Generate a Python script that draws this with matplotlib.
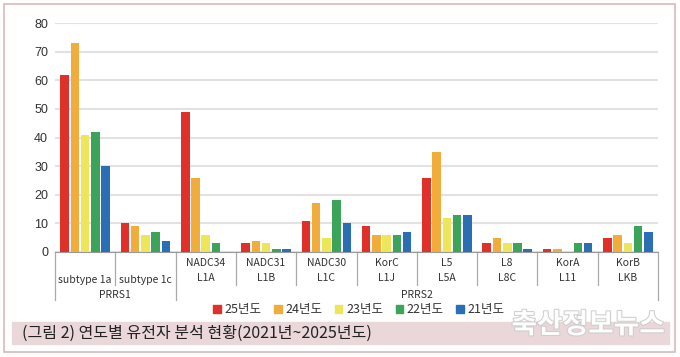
import matplotlib.pyplot as plt
import matplotlib.patheffects as pe
import matplotlib.transforms as mtransforms
from matplotlib.patches import Rectangle, Patch
import numpy as np

plt.rcParams['font.family'] = ['Noto Sans CJK KR', 'DejaVu Sans']

# 데이터
top_labels = ['subtype 1a', 'subtype 1c', 'NADC34\nL1A', 'NADC31\nL1B', 'NADC30\nL1C',
              'KorC\nL1J', 'L5\nL5A', 'L8\nL8C', 'KorA\nL11', 'KorB\nLKB']
groups = ['PRRS1', 'PRRS2']
years = ['25년도', '24년도', '23년도', '22년도', '21년도']
y25 = [62, 10, 49, 3, 11, 9, 26, 3, 1, 5]
y24 = [73, 9, 26, 4, 17, 6, 35, 5, 1, 6]
y23 = [41, 6, 6, 3, 5, 6, 12, 3, 0, 3]
y22 = [42, 7, 3, 1, 18, 6, 13, 3, 3, 9]
y21 = [30, 4, 0, 1, 10, 7, 13, 1, 3, 7]
series = [y25, y24, y23, y22, y21]
colors = ['#e0302a', '#f1ad3b', '#ede55a', '#3ba35a', '#2a6eb3']

W, H = 680, 357
fig = plt.figure(figsize=(W / 100, H / 100), dpi=100)

def fy(p):
    return 1 - p / H

ax = fig.add_axes([55 / W, fy(252), (658 - 55) / W, (252 - 23) / H])
x = np.arange(len(top_labels))
step = 0.17
for i, vals in enumerate(series):
    ax.bar(x + (i - 2) * step, vals, width=0.142, color=colors[i], zorder=3)

ax.set_xlim(-0.5, 9.5)
ax.set_ylim(0, 80)
ax.set_yticks(range(0, 81, 10))
ax.tick_params(axis='y', length=0, labelsize=9, labelcolor='#333333', pad=5)
for t in ax.get_yticklabels():
    t.set_fontfamily('Liberation Sans')
ax.set_xticks([])
ax.grid(axis='y', color='#e2e2e2', linewidth=1.5, zorder=0)
for s in ['top', 'right', 'left']:
    ax.spines[s].set_visible(False)
ax.spines['bottom'].set_color('#999999')

# 카테고리 라벨
tr = mtransforms.blended_transform_factory(ax.transData, fig.transFigure)
for b in np.arange(-0.5, 10, 1.0):
    bottom = 300 if b in (-0.5, 1.5, 9.5) else 285
    ax.plot([b, b], [fy(252), fy(bottom)], color='#aaaaaa', lw=0.9,
            transform=tr, clip_on=False)
for i, lab in enumerate(top_labels):
    if '\n' in lab:
        a, b2 = lab.split('\n')
        ax.text(i, fy(263), a, transform=tr, ha='center', va='center',
                fontsize=7.5, color='#333333')
        ax.text(i, fy(278), b2, transform=tr, ha='center', va='center',
                fontsize=7.5, color='#333333')
    else:
        ax.text(i, fy(280), lab, transform=tr, ha='center', va='center',
                fontsize=7.5, color='#333333')
ax.text(0.5, fy(295), groups[0], transform=tr, ha='center', va='center',
        fontsize=7.5, color='#333333')
ax.text(5.5, fy(295), groups[1], transform=tr, ha='center', va='center',
        fontsize=7.5, color='#333333')

# 범례
handles = [Patch(color=c, label=y) for c, y in zip(colors, years)]
fig.legend(handles=handles, loc='center', bbox_to_anchor=(359 / W, fy(310)),
           ncol=5, frameon=False, fontsize=9, handlelength=0.6, handleheight=0.6,
           handletextpad=0.3, columnspacing=1.0, labelcolor='#333333')

# 캡션 바
fig.patches.append(Rectangle((12 / W, fy(344)), (669 - 12) / W, 22 / H,
                             transform=fig.transFigure, color='#ead7da', zorder=0))
fig.text(22 / W, fy(333), '(그림 2) 연도별 유전자 분석 현황(2021년~2025년도)',
         ha='left', va='center', fontsize=11.5, color='#222222')

# 워터마크
fig.text(588 / W, fy(325), '축산정보뉴스', ha='center', va='center', fontsize=20,
         fontweight='bold', color='white', alpha=0.95,
         path_effects=[pe.withStroke(linewidth=1.5, foreground='#cccccc')])

# 테두리
fig.patches.append(Rectangle((4 / W, fy(352)), (675 - 4) / W, (352 - 4) / H,
                             transform=fig.transFigure, fill=False,
                             edgecolor='#dab8bc', lw=1.2))

fig.savefig('out.png', dpi=100)
